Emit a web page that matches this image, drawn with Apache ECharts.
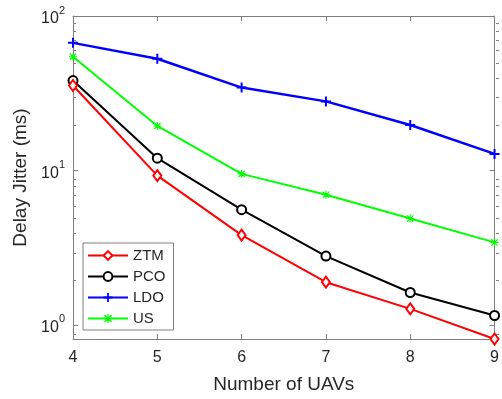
<!DOCTYPE html>
<html>
<head>
<meta charset="utf-8">
<script src="https://cdn.jsdelivr.net/npm/echarts@6/dist/echarts.min.js"></script>
<style>
  html, body { margin: 0; padding: 0; background: #fff; }
  #chart { width: 502px; height: 399px; }
</style>
</head>
<body>
<div id="chart"></div>
<script>
// Delay jitter versus swarm size for four scheduling schemes
const uavCounts = [4, 5, 6, 7, 8, 9];
const ztm = [35.5, 9.26, 3.81, 1.89, 1.27, 0.81];
const pco = [38.2, 12.0, 5.57, 2.79, 1.62, 1.15];
const ldo = [67.0, 52.9, 34.4, 28.0, 19.7, 12.8];
const us  = [54.5, 19.4, 9.5, 6.96, 4.88, 3.42];

const yMin = 0.81;
const yMax = 100;
const yMajorTicks = [1, 10, 100];
const yMinorTicks = [0.9, 2, 3, 4, 5, 6, 7, 8, 9, 20, 30, 40, 50, 60, 70, 80, 90];
const xTicks = [4, 5, 6, 7, 8, 9];

const FONT = 'Liberation Sans, Arial, sans-serif';
const TEXT = '#262626';
const AXIS = '#7f7f7f';

const plusSymbol = 'path://M4,0H6V4H10V6H6V10H4V6H0V4H4Z';
const starSymbol = 'path://M4.3,0H5.7V4.3H10V5.7H5.7V10H4.3V5.7H0V4.3H4.3Z M0.5,1.5L1.5,0.5L9.5,8.5L8.5,9.5Z M8.5,0.5L9.5,1.5L1.5,9.5L0.5,8.5Z';

const gridRect = { left: 73, right: 3, top: 16, bottom: 57.5 };

function pairs(ys) {
  return uavCounts.map((x, i) => [x, ys[i]]);
}

function logAxis(extra) {
  return Object.assign({
    type: 'log',
    min: yMin,
    max: yMax,
    splitLine: { show: false },
    axisLine: { show: true, lineStyle: { color: AXIS, width: 1 } }
  }, extra);
}

const chart = echarts.init(document.getElementById('chart'), null, { renderer: 'canvas' });

chart.setOption({
  animation: false,
  backgroundColor: '#fff',
  textStyle: { fontFamily: FONT },
  grid: [
    Object.assign({ containLabel: false }, gridRect),
    Object.assign({ containLabel: false }, gridRect)
  ],
  xAxis: [
    {
      gridIndex: 0, type: 'value', position: 'bottom',
      min: 4, max: 9, interval: 1,
      name: 'Number of UAVs', nameLocation: 'middle', nameGap: 36,
      nameTextStyle: { fontSize: 19, color: TEXT, fontFamily: FONT },
      axisLine: { show: true, lineStyle: { color: AXIS, width: 1 } },
      axisTick: { show: true, inside: true, length: 5, lineStyle: { color: AXIS } },
      axisLabel: { color: TEXT, fontSize: 16, margin: 11, fontFamily: FONT,
                   customValues: xTicks },
      splitLine: { show: false }
    },
    {
      gridIndex: 0, type: 'value', position: 'top',
      min: 4, max: 9, interval: 1,
      axisLine: { show: true, lineStyle: { color: AXIS, width: 1 } },
      axisTick: { show: true, inside: true, length: 5, lineStyle: { color: AXIS } },
      axisLabel: { show: false },
      splitLine: { show: false }
    },
    {
      gridIndex: 1, type: 'value', min: 4, max: 9, show: false
    }
  ],
  yAxis: [
    logAxis({
      gridIndex: 0, position: 'left',
      name: 'Delay Jitter (ms)', nameLocation: 'middle', nameGap: 42,
      nameTextStyle: { fontSize: 19, color: TEXT, fontFamily: FONT },
      axisTick: { show: true, inside: true, length: 5, customValues: yMajorTicks,
                  lineStyle: { color: AXIS } },
      axisLabel: {
        customValues: yMajorTicks,
        margin: 8,
        color: TEXT,
        formatter: function (v) {
          return '{b|10}{s|' + Math.round(Math.log10(v)) + '}';
        },
        rich: {
          b: { fontSize: 16, color: TEXT, fontFamily: FONT, verticalAlign: 'bottom', lineHeight: 22 },
          s: { fontSize: 11, color: TEXT, fontFamily: FONT, verticalAlign: 'top', lineHeight: 22 }
        }
      }
    }),
    logAxis({
      gridIndex: 0, position: 'right',
      axisTick: { show: true, inside: true, length: 5, customValues: yMajorTicks,
                  lineStyle: { color: AXIS } },
      axisLabel: { show: false }
    }),
    logAxis({
      gridIndex: 1, position: 'left',
      axisLine: { show: false },
      axisTick: { show: true, inside: true, length: 3, customValues: yMinorTicks,
                  lineStyle: { color: AXIS } },
      axisLabel: { show: false }
    }),
    logAxis({
      gridIndex: 1, position: 'right',
      axisLine: { show: false },
      axisTick: { show: true, inside: true, length: 3, customValues: yMinorTicks,
                  lineStyle: { color: AXIS } },
      axisLabel: { show: false }
    })
  ],
  legend: {
    orient: 'vertical',
    left: 83,
    top: 243,
    padding: [5, 8, 4, 4],
    itemWidth: 40,
    itemHeight: 11,
    itemGap: 6,
    itemTextGap: 3,
    borderColor: AXIS,
    borderWidth: 1,
    backgroundColor: '#fff',
    selectedMode: false,
    textStyle: { fontSize: 15, color: TEXT, fontFamily: FONT, lineHeight: 15 },
    data: ['ZTM', 'PCO', 'LDO', 'US']
  },
  series: [
    {
      name: 'US', type: 'line', data: pairs(us),
      xAxisIndex: 0, yAxisIndex: 0,
      symbol: starSymbol, symbolSize: 8,
      lineStyle: { color: '#00ff00', width: 2 },
      itemStyle: { color: '#00ff00', borderWidth: 0 }
    },
    {
      name: 'LDO', type: 'line', data: pairs(ldo),
      xAxisIndex: 0, yAxisIndex: 0,
      symbol: plusSymbol, symbolSize: 10,
      lineStyle: { color: '#0000ff', width: 2.5 },
      itemStyle: { color: '#0000ff', borderWidth: 0 }
    },
    {
      name: 'PCO', type: 'line', data: pairs(pco),
      xAxisIndex: 0, yAxisIndex: 0,
      symbol: 'emptyCircle', symbolSize: 9,
      lineStyle: { color: '#000000', width: 2 },
      itemStyle: { color: '#000000', borderColor: '#000000', borderWidth: 1.6 }
    },
    {
      name: 'ZTM', type: 'line', data: pairs(ztm),
      xAxisIndex: 0, yAxisIndex: 0,
      symbol: 'emptyDiamond', symbolSize: [8, 11],
      lineStyle: { color: '#ff0000', width: 2 },
      itemStyle: { color: '#ff0000', borderColor: '#ff0000', borderWidth: 1.6 }
    }
  ]
});
</script>
</body>
</html>
